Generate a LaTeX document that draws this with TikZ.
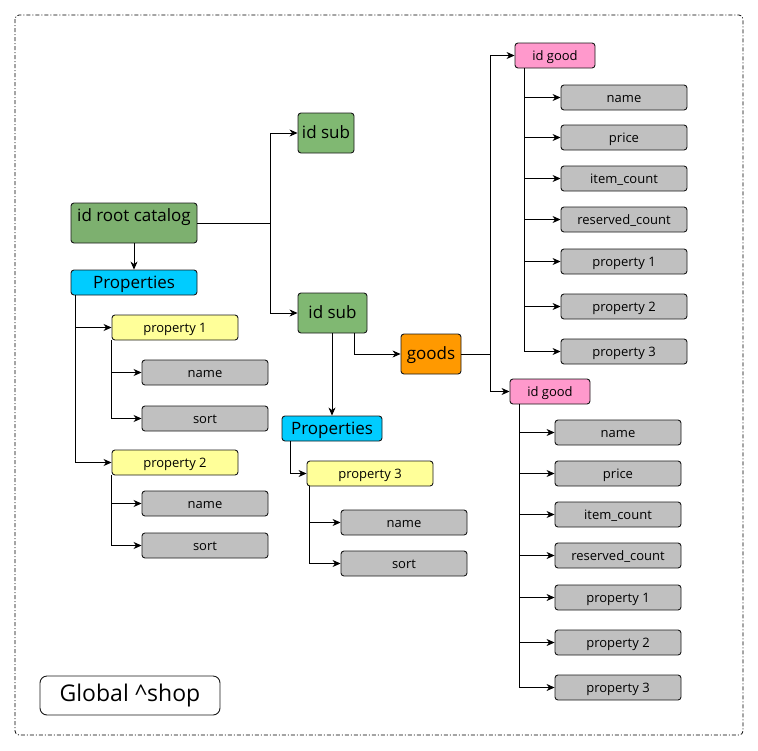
\documentclass[tikz,border=0pt]{standalone}
\usepackage{fontspec}
\setmainfont{Open Sans}
\usetikzlibrary{arrows.meta}

\definecolor{rootgreen}{HTML}{7DB06F}
\definecolor{subgreen}{HTML}{80B872}
\definecolor{propblue}{HTML}{00CCFF}
\definecolor{propyellow}{HTML}{FFFF99}
\definecolor{fieldgray}{HTML}{C0C0C0}
\definecolor{goodpink}{HTML}{FF99CC}
\definecolor{goodsorange}{HTML}{FF9900}

\begin{document}
\begin{tikzpicture}[
  x=1pt, y=-1pt, line width=0.75pt,
  >={Stealth[length=8pt,width=7pt,inset=2.5pt]},
  box/.style={draw=black!90, line width=0.9pt, rounded corners=3pt, inner sep=0pt, minimum height=25pt},
  small/.style={font=\fontsize{13}{15}\selectfont, text height=10pt, text depth=0pt},
  big/.style={font=\fontsize{17}{20}\selectfont, text height=11pt, text depth=0pt},
  catalog/.style={box, big, minimum height=40pt},
  props/.style={box, big, fill=propblue},
  prop/.style={box, small, fill=propyellow, minimum width=126pt},
  field/.style={box, small, fill=fieldgray, minimum width=126pt},
  good/.style={box, small, fill=goodpink, minimum width=80pt}
]
\useasboundingbox (0,0) rectangle (758,750);
\draw[dash pattern=on 4pt off 2pt on 1pt off 2pt, rounded corners=4pt] (15,15) rectangle (743,735);

% catalog
\node[catalog, fill=rootgreen, minimum width=126pt, text height=11pt, text depth=14pt] (root) at (134,223) {id root catalog};
\node[catalog, fill=subgreen, minimum width=56pt] (sub1) at (326,133) {id sub};
\node[catalog, fill=subgreen, minimum width=69pt] (sub2) at (332.5,313) {id sub};
\coordinate (fork) at (270,223);
\draw (root.east) -- (fork);
\draw[->] (fork) |- (sub1);
\draw[->] (fork) |- (sub2);

% properties of root
\node[props, minimum width=126pt] (rprops) at (134,282.5) {Properties};
\draw[->] (root) -- (rprops);
\node[prop] (rp1) at (175,327.5) {property 1};
\node[field] (rp1name) at (205,372.5) {name};
\node[field] (rp1sort) at (205,418.5) {sort};
\node[prop] (rp2) at (175,462.5) {property 2};
\node[field] (rp2name) at (205,503.5) {name};
\node[field] (rp2sort) at (205,545.5) {sort};
\foreach \p in {rp1,rp2}
  \draw[->] (rprops.south west) ++(5,0) |- (\p);
\foreach \p in {rp1,rp2}
  \foreach \f in {name,sort}
    \draw[->] (\p.south west) |- (\p\f);

% properties of sub
\node[props, minimum width=100pt] (sprops) at (332,428.5) {Properties};
\draw[->] (sub2.south -| sprops) -- (sprops);
\node[prop] (sp3) at (370,473.5) {property 3};
\node[field] (sp3name) at (404,522.5) {name};
\node[field] (sp3sort) at (404,563.5) {sort};
\draw[->] (sprops.south west) ++(9,0) |- (sp3);
\foreach \f in {name,sort}
  \draw[->] (sp3.south west) ++(3,0) |- (sp3\f);

% goods
\node[catalog, fill=goodsorange, minimum width=60pt] (goods) at (431,354) {goods};
\draw[->] (sub2.south east) ++(-13,0) |- (goods);
\node[good] (good1) at (555,55.5) {id good};
\node[good] (good2) at (550,391.5) {id good};
\coordinate (gfork) at (490,354);
\draw (goods.east) -- (gfork);
\draw[->] (gfork) |- (good1);
\draw[->] (gfork) |- (good2);

\foreach \f/\t/\y in {name/name/97.5, price/price/137.5, count/item\_count/178.5,
    reserved/reserved\_count/219.5, pa/property 1/261.5, pb/property 2/306.5, pc/property 3/351.5}
{
  \node[field] (g1\f) at (624,\y) {\t};
  \draw[->] (good1.south west) ++(10,0) |- (g1\f);
}
\foreach \f/\t/\y in {name/name/432.5, price/price/473.5, count/item\_count/514.5,
    reserved/reserved\_count/555.5, pa/property 1/597.5, pb/property 2/642.5, pc/property 3/687.5}
{
  \node[field] (g2\f) at (618,\y) {\t};
  \draw[->] (good2.south west) ++(10,0) |- (g2\f);
}

% label
\node[draw=black!90, line width=0.9pt, fill=white, rounded corners=7pt, minimum width=180pt, minimum height=39pt,
  font=\fontsize{23}{27}\selectfont] (shop) at (130,695.5) {Global \textasciicircum shop};
\end{tikzpicture}
\end{document}
